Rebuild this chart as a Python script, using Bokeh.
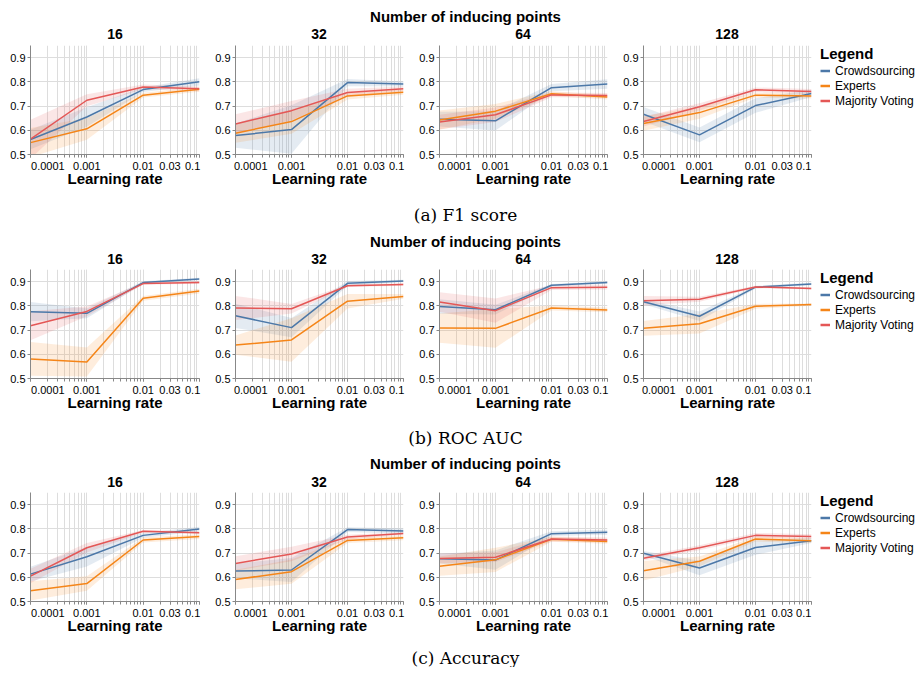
from bokeh.plotting import figure
from bokeh.models import Range1d, FixedTicker, CustomJSTickFormatter, Legend, LegendItem
from bokeh.layouts import column, row
from bokeh.embed import file_html
from bokeh.resources import INLINE
from bokeh.core.properties import value

# ---------------- data ----------------
learning_rates = [0.0001, 0.001, 0.01, 0.1]
inducing_points = ["16", "32", "64", "128"]
methods = ["Crowdsourcing", "Experts", "Majority Voting"]
colors = ["#4c78a8", "#f58518", "#e45756"]
x_tick_values = [0.0001, 0.001, 0.01, 0.03, 0.1]
y_tick_values = [0.5, 0.6, 0.7, 0.8, 0.9]
captions = ["(a) F1 score", "(b) ROC AUC", "(c) Accuracy"]
header_text = "Number of inducing points"
x_label = "Learning rate"
legend_title = "Legend"

# mean values, one row per panel (16, 32, 64, 128), one value per learning rate
f1_crowd = [[0.562, 0.655, 0.768, 0.800], [0.578, 0.603, 0.797, 0.791],
            [0.646, 0.639, 0.776, 0.791], [0.666, 0.581, 0.702, 0.752]]
f1_experts = [[0.549, 0.606, 0.745, 0.769], [0.588, 0.636, 0.742, 0.757],
              [0.642, 0.679, 0.751, 0.737], [0.628, 0.673, 0.745, 0.741]]
f1_majority = [[0.563, 0.724, 0.779, 0.771], [0.626, 0.681, 0.756, 0.771],
               [0.634, 0.664, 0.746, 0.744], [0.636, 0.697, 0.767, 0.760]]

auc_crowd = [[0.776, 0.769, 0.896, 0.911], [0.759, 0.710, 0.893, 0.903],
             [0.797, 0.784, 0.885, 0.896], [0.817, 0.757, 0.877, 0.890]]
auc_experts = [[0.581, 0.568, 0.831, 0.861], [0.638, 0.659, 0.819, 0.839],
               [0.708, 0.707, 0.791, 0.783], [0.707, 0.726, 0.798, 0.805]]
auc_majority = [[0.718, 0.777, 0.892, 0.896], [0.791, 0.788, 0.883, 0.888],
                [0.816, 0.780, 0.875, 0.877], [0.821, 0.827, 0.878, 0.872]]

acc_crowd = [[0.613, 0.685, 0.773, 0.799], [0.626, 0.630, 0.797, 0.791],
             [0.677, 0.671, 0.780, 0.786], [0.699, 0.638, 0.723, 0.751]]
acc_experts = [[0.544, 0.574, 0.754, 0.768], [0.591, 0.623, 0.752, 0.763],
               [0.646, 0.672, 0.757, 0.748], [0.627, 0.666, 0.758, 0.751]]
acc_majority = [[0.605, 0.722, 0.790, 0.784], [0.657, 0.696, 0.766, 0.781],
                [0.678, 0.683, 0.758, 0.754], [0.679, 0.722, 0.773, 0.768]]

# half-width of the shaded band around each mean
f1_crowd_sd = [[0.04, 0.04, 0.01, 0.015], [0.05, 0.10, 0.015, 0.01],
               [0.03, 0.04, 0.015, 0.02], [0.03, 0.03, 0.03, 0.015]]
f1_experts_sd = [[0.06, 0.045, 0.01, 0.01], [0.04, 0.05, 0.015, 0.01],
                 [0.04, 0.03, 0.01, 0.01], [0.03, 0.025, 0.01, 0.01]]
f1_majority_sd = [[0.08, 0.025, 0.01, 0.01], [0.04, 0.04, 0.015, 0.01],
                  [0.03, 0.03, 0.01, 0.01], [0.02, 0.015, 0.01, 0.01]]

auc_crowd_sd = [[0.04, 0.02, 0.005, 0.005], [0.05, 0.04, 0.01, 0.005],
                [0.03, 0.02, 0.005, 0.005], [0.01, 0.02, 0.005, 0.005]]
auc_experts_sd = [[0.07, 0.06, 0.01, 0.01], [0.04, 0.09, 0.03, 0.01],
                  [0.06, 0.08, 0.01, 0.01], [0.03, 0.04, 0.01, 0.005]]
auc_majority_sd = [[0.06, 0.02, 0.005, 0.005], [0.05, 0.02, 0.005, 0.005],
                   [0.04, 0.05, 0.01, 0.01], [0.02, 0.01, 0.005, 0.005]]

acc_crowd_sd = [[0.03, 0.04, 0.01, 0.01], [0.03, 0.05, 0.01, 0.01],
                [0.02, 0.04, 0.01, 0.01], [0.01, 0.03, 0.03, 0.01]]
acc_experts_sd = [[0.04, 0.03, 0.01, 0.01], [0.04, 0.05, 0.01, 0.01],
                  [0.04, 0.05, 0.01, 0.01], [0.04, 0.02, 0.01, 0.01]]
acc_majority_sd = [[0.03, 0.02, 0.005, 0.005], [0.03, 0.03, 0.01, 0.005],
                   [0.02, 0.02, 0.01, 0.01], [0.01, 0.01, 0.01, 0.01]]

metrics = [
    ([f1_crowd, f1_experts, f1_majority], [f1_crowd_sd, f1_experts_sd, f1_majority_sd]),
    ([auc_crowd, auc_experts, auc_majority], [auc_crowd_sd, auc_experts_sd, auc_majority_sd]),
    ([acc_crowd, acc_experts, acc_majority], [acc_crowd_sd, acc_experts_sd, acc_majority_sd]),
]

# ---------------- layout constants ----------------
FONT = "Liberation Sans"
W = 916
FRAME_W = 169
FRAME_H = 109
BORDER_L = [30, 22, 22, 22]
BORDER_R = [13, 13, 13, 9]
PANEL_H = 150
LEGEND_W = W - sum(BORDER_L) - sum(BORDER_R) - 4 * FRAME_W
GRID = "#dddddd"
AXIS = "#888888"
# no-break spaces that pad the first / last x label so it sits flush with the frame edge
PAD_L = [10, 7, 7, 7]
PAD_R = [4, 4, 4, 3]

minor_ticks = [m * 10.0 ** e for e in (-4, -3, -2) for m in range(1, 10)] + [0.1]


def x_formatter(i):
    return CustomJSTickFormatter(
        args=dict(lo=learning_rates[0], hi=learning_rates[-1], pl=PAD_L[i], pr=PAD_R[i]),
        code="""
const s = tick.toString();
const nb = "\\u00a0";
if (Math.abs(Math.log10(tick) - Math.log10(lo)) < 1e-6) return nb.repeat(pl) + s;
if (Math.abs(Math.log10(tick) - Math.log10(hi)) < 1e-6) return s + nb.repeat(pr);
return s;
""")


def strip(h, caption=None, cap_y=None, header_y=None, title_y=None):
    s = figure(width=W, height=h, x_range=Range1d(0, W), y_range=Range1d(h, 0),
               output_backend="svg", toolbar_location=None, min_border=0,
               x_axis_location=None, y_axis_location=None, outline_line_color=None)
    s.xgrid.visible = False
    s.ygrid.visible = False
    if caption is not None:
        s.text(x=[465], y=[cap_y], text=[caption], text_font=value("DejaVu Serif"),
               text_font_size="17px", text_align="center", text_baseline="middle",
               text_color="black")
    if header_y is not None:
        s.text(x=[465], y=[header_y], text=[header_text], text_font=value(FONT),
               text_font_style="bold", text_font_size="15px", text_align="center",
               text_baseline="middle", text_color="black")
    if title_y is not None:
        s.text(x=[30 + FRAME_W / 2 + 204 * i for i in range(4)], y=[title_y] * 4,
               text=inducing_points, text_font=value(FONT), text_font_style="bold",
               text_font_size="14px", text_align="center", text_baseline="middle",
               text_color="black")
    return s


def panel(means, sds, i):
    bl, br = BORDER_L[i], BORDER_R[i]
    p = figure(width=bl + FRAME_W + br, height=PANEL_H, x_axis_type="log",
               x_range=Range1d(learning_rates[0], learning_rates[-1]),
               y_range=Range1d(0.5, 0.95), output_backend="svg", toolbar_location=None,
               min_border_left=bl, min_border_right=br,
               min_border_top=0, min_border_bottom=PANEL_H - FRAME_H,
               outline_line_color=None)
    p.xaxis.ticker = FixedTicker(ticks=x_tick_values, minor_ticks=minor_ticks)
    p.xaxis.formatter = x_formatter(i)
    p.yaxis.ticker = FixedTicker(ticks=y_tick_values)
    for ax in (p.xaxis, p.yaxis):
        ax.axis_line_color = AXIS
        ax.major_tick_line_color = AXIS
        ax.minor_tick_line_color = AXIS
        ax.major_label_text_font = FONT
        ax.major_label_text_font_size = "11px"
        ax.major_label_text_color = "black"
        ax.major_tick_in = 0
        ax.minor_tick_in = 0
        ax.major_label_standoff = 2
    p.xaxis.major_tick_out = 3
    p.xaxis.minor_tick_out = 3
    p.yaxis.major_tick_out = 3
    p.yaxis.minor_tick_out = 0
    p.xaxis.axis_label = x_label
    p.xaxis.axis_label_text_font = FONT
    p.xaxis.axis_label_text_font_style = "bold"
    p.xaxis.axis_label_text_font_size = "15px"
    p.xaxis.axis_label_text_color = "black"
    p.xaxis.axis_label_standoff = -5
    p.xgrid.grid_line_color = GRID
    p.xgrid.minor_grid_line_color = GRID
    p.ygrid.grid_line_color = GRID

    for k in range(3):
        mu = means[k][i]
        sd = sds[k][i]
        p.varea(x=learning_rates, y1=[a - b for a, b in zip(mu, sd)],
                y2=[a + b for a, b in zip(mu, sd)], fill_color=colors[k], fill_alpha=0.15)
    for k in range(3):
        p.line(learning_rates, means[k][i], line_color=colors[k], line_width=1.5)
    return p


def legend_panel(means):
    # a canvas that only holds the colour key; its key renderers are hidden
    lf = figure(width=LEGEND_W, height=PANEL_H, x_range=Range1d(0, 1), y_range=Range1d(0, 1),
                output_backend="svg", toolbar_location=None, min_border=0,
                x_axis_location=None, y_axis_location=None, outline_line_color=None)
    lf.xgrid.visible = False
    lf.ygrid.visible = False
    keys = [lf.line(learning_rates, means[k][3], line_color=colors[k], line_width=2.5,
                    visible=False) for k in range(3)]
    legend = Legend(items=[LegendItem(label=methods[k], renderers=[keys[k]]) for k in range(3)],
                    location="top_left", title=legend_title,
                    title_text_font=FONT, title_text_font_size="15px",
                    title_text_font_style="bold", title_text_color="black",
                    title_standoff=1,
                    label_text_font=FONT, label_text_font_size="12px",
                    label_text_color="black",
                    glyph_width=10, glyph_height=15, label_height=15,
                    label_standoff=5, spacing=0, padding=0, margin=0,
                    inactive_fill_alpha=0, click_policy="none",
                    border_line_color=None, background_fill_alpha=0)
    lf.add_layout(legend)
    return lf


rows = []
for r, (means, sds) in enumerate(metrics):
    rows.append(row(*[panel(means, sds, i) for i in range(4)], legend_panel(means)))

s0 = strip(45, header_y=16, title_y=33)
s1 = strip(74, caption=captions[0], cap_y=19, header_y=45.5, title_y=63)
s2 = strip(73, caption=captions[1], cap_y=18, header_y=44.3, title_y=62)
s3 = strip(25, caption=captions[2], cap_y=15)

layout = column(s0, rows[0], s1, rows[1], s2, rows[2], s3)

open("out.html", "w").write(file_html(layout, INLINE))
